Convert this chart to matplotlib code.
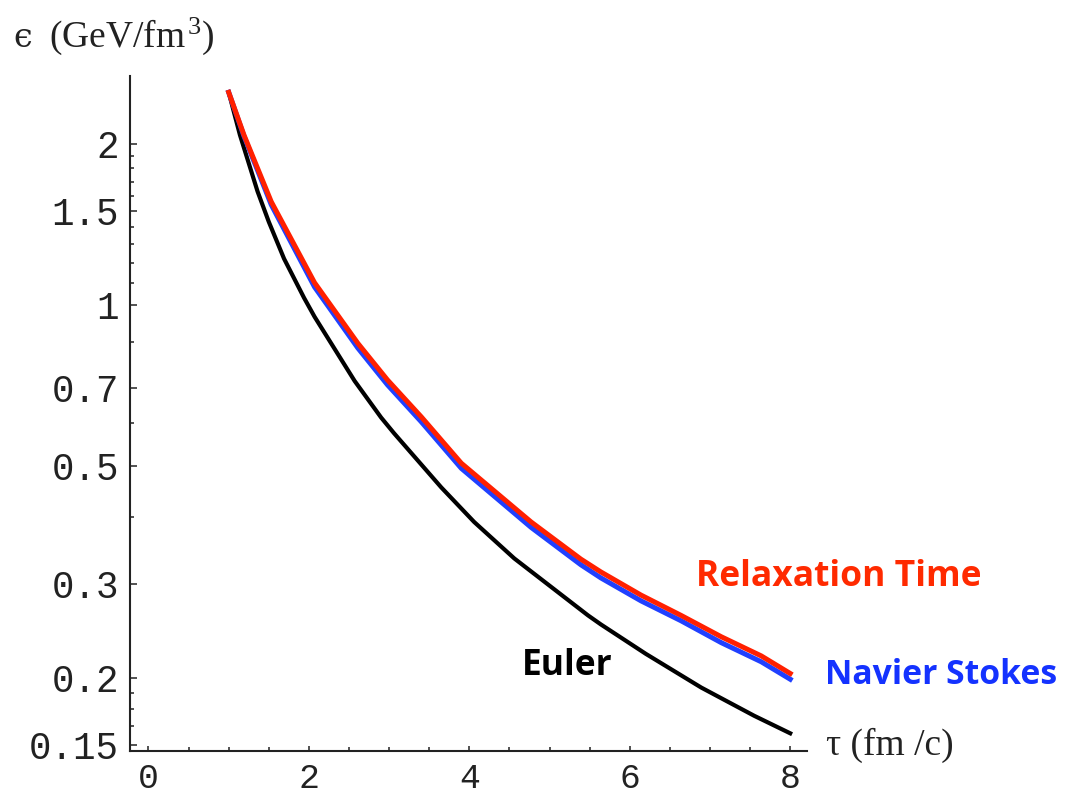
import numpy as np
import matplotlib.pyplot as plt
from matplotlib.ticker import NullFormatter

# energy density vs proper time, three hydro evolutions
tau_euler = [1.00, 1.14, 1.36, 1.50, 1.69, 1.94, 2.07, 2.57, 2.90, 3.06, 3.65,
             4.06, 4.56, 5.48, 5.64, 6.20, 6.89, 7.55, 8.00]
eps_euler = [2.50, 2.08, 1.63, 1.43, 1.22, 1.03, 0.95, 0.720, 0.615, 0.575, 0.455,
             0.392, 0.335, 0.262, 0.252, 0.222, 0.192, 0.170, 0.1576]

tau_visc = [1.00, 1.19, 1.53, 2.07, 2.61, 2.98, 3.40, 3.90, 4.77, 5.39, 5.64,
            6.14, 6.64, 7.14, 7.64, 8.00]
eps_relax = [2.50, 2.08, 1.56, 1.10, 0.847, 0.723, 0.617, 0.505, 0.392, 0.334, 0.316,
             0.286, 0.262, 0.239, 0.220, 0.204]
eps_ns = [2.50, 2.07, 1.54, 1.08, 0.830, 0.708, 0.604, 0.494, 0.383, 0.326, 0.308,
          0.279, 0.256, 0.233, 0.2145, 0.199]

y_major = [0.15, 0.2, 0.3, 0.5, 0.7, 1, 1.5, 2]
y_labels = ["0.15", "0.2", "0.3", "0.5", "0.7", "1", "1.5", "2"]
y_minor = [0.1625, 0.175, 0.1875, 0.4, 0.6, 0.85, 1.1, 1.2, 1.3, 1.4,
           1.6, 1.7, 1.8, 1.9]
x_major = [0, 2, 4, 6, 8]
x_minor = [0.5, 1, 1.5, 2.5, 3, 3.5, 4.5, 5, 5.5, 6.5, 7, 7.5]

plt.rcParams["mathtext.fontset"] = "custom"
plt.rcParams["mathtext.rm"] = "Liberation Serif"
plt.rcParams["mathtext.it"] = "Liberation Serif:italic"

fig = plt.figure(figsize=(10.65, 7.95), dpi=100)
ax = fig.add_axes([0.1221, 0.0557, 0.6357, 0.8487])

ax.plot(tau_euler, eps_euler, color="black", lw=3.0, solid_joinstyle="round")
ax.plot(tau_visc, eps_ns, color="#2040ff", lw=3.6, solid_joinstyle="round")
ax.plot(tau_visc, eps_relax, color="#ff2000", lw=3.6, solid_joinstyle="round")

ax.set_yscale("log")
ax.set_xlim(-0.23, 8.21)
ax.set_ylim(0.1462, 2.682)

ax.set_yticks(y_major, labels=y_labels)
ax.set_yticks(y_minor, minor=True)
ax.yaxis.set_minor_formatter(NullFormatter())
ax.set_xticks(x_major, labels=[str(v) for v in x_major])
ax.set_xticks(x_minor, minor=True)

for s in ["top", "right"]:
    ax.spines[s].set_visible(False)
for s in ["left", "bottom"]:
    ax.spines[s].set_linewidth(1.5)
    ax.spines[s].set_color("#222222")

mono = "Liberation Mono"
ax.tick_params(axis="y", which="major", direction="in", length=5, width=1.1,
               pad=8, labelsize=27, colors="#222222")
ax.tick_params(axis="y", which="minor", direction="in", length=2.8, width=1.1,
               colors="#222222")
ax.tick_params(axis="x", which="major", direction="in", length=3.3, width=1.1,
               pad=8, labelsize=25, colors="#222222")
ax.tick_params(axis="x", which="minor", direction="in", length=2.8, width=1.1,
               colors="#222222")
for lab in ax.get_xticklabels() + ax.get_yticklabels():
    lab.set_family(mono)

# axis titles sit at the ends of the axes, Mathematica style
fig.text(13 / 1065, 1 - 46.7 / 795, "ϵ", family="DejaVu Serif",
         fontsize=24, va="baseline", ha="left", color="#222222")
fig.text(49 / 1065, 1 - 46.7 / 795, r"$\mathrm{(GeV/fm}^{\,3}\mathrm{)}$",
         fontsize=27, va="baseline", ha="left", color="#222222")
fig.text(826 / 1065, 40 / 795, "τ (fm /c)",
         family=["Liberation Serif", "DejaVu Serif"],
         fontsize=27, va="baseline", ha="left", color="#222222")

lab_font = dict(family="Open Sans", fontweight="bold",
                va="baseline", ha="left")
ax.text(6.83, 0.2974, "Relaxation Time", color="#ff2a00", fontsize=25.5, **lab_font)
ax.text(8.43, 0.1949, "Navier Stokes", color="#1432ff", fontsize=24.3, **lab_font)
ax.text(4.65, 0.2026, "Euler", color="black", fontsize=25.5, **lab_font)

fig.savefig("out.png", dpi=100)
